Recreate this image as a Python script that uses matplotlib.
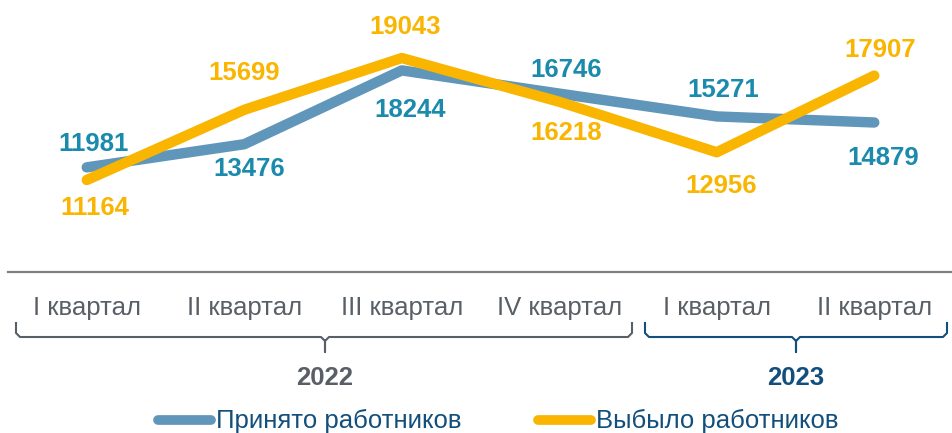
import matplotlib.pyplot as plt

plt.rcParams['font.family'] = ['Liberation Sans', 'DejaVu Sans']

# data
quarters = ['I квартал', 'II квартал', 'III квартал', 'IV квартал', 'I квартал', 'II квартал']
years = ['2022', '2023']
hired = [11981, 13476, 18244, 16746, 15271, 14879]
left = [11164, 15699, 19043, 16218, 12956, 17907]
hired_name = 'Принято работников'
left_name = 'Выбыло работников'

# styles
BLUE = '#6096b9'
BLUE_TXT = '#1a8aad'
YELLOW = '#f9b500'
GRAY = '#595f66'
NAVY = '#124f7d'

# label offsets in pixels (dx, dy)
hired_off = [(7, 23), (5, -25), (8, -40), (7, 24), (7, 26), (9, -36)]
left_off = [(8, -28), (0, 37), (3, 31), (7, -31), (4, -34), (6, 26)]

W, H = 953, 433
fig = plt.figure(figsize=(W / 100, H / 100), dpi=100)
ax = fig.add_axes([8 / W, 1 - 272 / H, 945 / W, 272 / H])

x = list(range(len(quarters)))
ax.plot(x, hired, color=BLUE, lw=7.5, solid_capstyle='round', solid_joinstyle='round', zorder=2)
ax.plot(x, left, color=YELLOW, lw=7.5, solid_capstyle='round', solid_joinstyle='round', zorder=3)

for xi, v, (dx, dy) in zip(x, hired, hired_off):
    ax.annotate(str(v), (xi, v), xytext=(dx, dy), textcoords='offset pixels',
                ha='center', va='center', color=BLUE_TXT, fontsize=18.5, fontweight='bold')
for xi, v, (dx, dy) in zip(x, left, left_off):
    ax.annotate(str(v), (xi, v), xytext=(dx, dy), textcoords='offset pixels',
                ha='center', va='center', color=YELLOW, fontsize=18.5, fontweight='bold')

ax.set_xlim(-0.5, 5.5)
ax.set_ylim(5221, 22792)
ax.set_xticks(x)
ax.set_xticklabels(quarters, fontsize=18.5, color=GRAY)
ax.tick_params(axis='x', length=0, pad=17)
ax.set_yticks([])
for s in ['top', 'left', 'right']:
    ax.spines[s].set_visible(False)
ax.spines['bottom'].set_color('#7f7f7f')
ax.spines['bottom'].set_linewidth(1.6)

# overlay in pixel coordinates for brackets and legend
ov = fig.add_axes([0, 0, 1, 1])
ov.set_xlim(0, W)
ov.set_ylim(H, 0)
ov.axis('off')


def bracket(x0, x1, xc, col):
    r = 4
    ov.plot([x0, x0, x0 + r, xc - r, xc, xc, xc, xc + r, x1 - r, x1, x1],
            [323, 333, 337, 337, 341, 352, 341, 337, 337, 333, 323],
            color=col, lw=1.5, solid_joinstyle='round')


bracket(16, 632, 325, GRAY)
bracket(645, 947, 796, NAVY)
ov.text(325, 378, years[0], ha='center', va='center', fontsize=18.5, fontweight='bold', color=GRAY)
ov.text(796, 378, years[1], ha='center', va='center', fontsize=18.5, fontweight='bold', color=NAVY)

ov.plot([158, 211], [420, 420], color=BLUE, lw=7, solid_capstyle='round')
ov.text(216, 421, hired_name, ha='left', va='center', fontsize=18.5, color=NAVY)
ov.plot([538, 591], [420, 420], color=YELLOW, lw=7, solid_capstyle='round')
ov.text(596, 421, left_name, ha='left', va='center', fontsize=18.5, color=NAVY)

fig.savefig('out.png', dpi=100)
